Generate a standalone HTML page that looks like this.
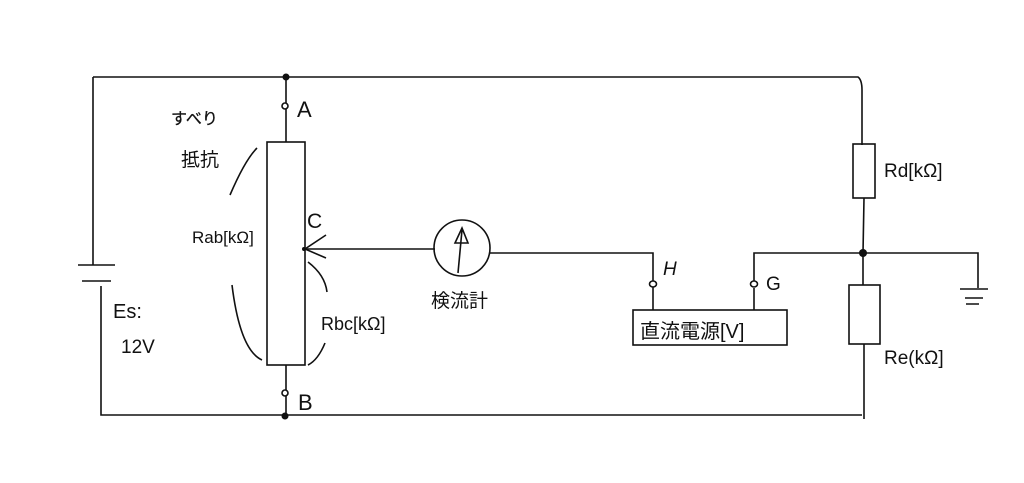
<!DOCTYPE html>
<html><head><meta charset="utf-8"><style>
html,body{margin:0;padding:0;background:#fff;}
svg{display:block}
text{font-family:"Liberation Sans","Noto Sans CJK JP",sans-serif;fill:#111;}
</style></head><body>
<svg width="1024" height="483" viewBox="0 0 1024 483" xmlns="http://www.w3.org/2000/svg">
<g stroke="#111" stroke-width="1.6" fill="none">
<path d="M93 77 H858 Q862 80 862 90 V145"/>
<path d="M93 77 V265"/>
<path d="M78 265 H115"/>
<path d="M82 281 H111"/>
<path d="M101 286 V415 H862"/>
<path d="M286 77 V103 M286 109 V142"/>
<circle cx="285" cy="106" r="3"/>
<rect x="267" y="142" width="38" height="223" fill="#fff"/>
<path d="M286 365 V390 M286 396 V415"/>
<circle cx="285" cy="393" r="3"/>
<path d="M304 249 H435"/>
<path d="M326 235 L305 249 L326 258"/>
<circle cx="462" cy="248" r="28"/>
<path d="M458 273 L462 230 M455 243 L462 228 L468 243 Z"/>
<path d="M490 253 H653 V281 M653 287 V310"/>
<ellipse cx="653" cy="284" rx="3.5" ry="3"/>
<rect x="633" y="310" width="154" height="35"/>
<path d="M754 310 V288 M754 281 V253 H978 V288"/>
<ellipse cx="754" cy="284" rx="3.5" ry="3"/>
<path d="M960 289 H988 M965 298 H983 M966 304 H979"/>
<rect x="853" y="144" width="22" height="54"/>
<path d="M864 198 L863 253 V285"/>
<rect x="849" y="285" width="31" height="59"/>
<path d="M864 344 V419"/>
<path d="M230 195 Q245 160 257 148"/>
<path d="M232 285 Q240 350 262 360"/>
<path d="M308 262 Q325 275 327 292"/>
<path d="M325 343 Q318 360 308 365"/>
</g>
<g fill="#111">
<circle cx="286" cy="77" r="3.5"/>
<circle cx="285" cy="416" r="3.5"/>
<circle cx="304" cy="249" r="2"/>
<circle cx="863" cy="253" r="4"/>
</g>
<text x="297" y="117" font-size="22">A</text>
<text x="298" y="410" font-size="22">B</text>
<text x="307" y="228" font-size="21">C</text>
<text x="663" y="275" font-size="19" font-style="italic">H</text>
<text x="766" y="290" font-size="19">G</text>
<text x="171" y="124" font-size="16" stroke="#111" stroke-width="0.3">すべり</text>
<text x="181" y="166" font-size="19">抵抗</text>
<text x="192" y="243" font-size="17">Rab[kΩ]</text>
<text x="321" y="330" font-size="18">Rbc[kΩ]</text>
<text x="113" y="318" font-size="20">Es:</text>
<text x="121" y="353" font-size="19">12V</text>
<text x="431" y="307" font-size="19">検流計</text>
<text x="640" y="338" font-size="20">直流電源[V]</text>
<text x="884" y="177" font-size="19">Rd[kΩ]</text>
<text x="884" y="364" font-size="19">Re(kΩ]</text>
</svg>
</body></html>
